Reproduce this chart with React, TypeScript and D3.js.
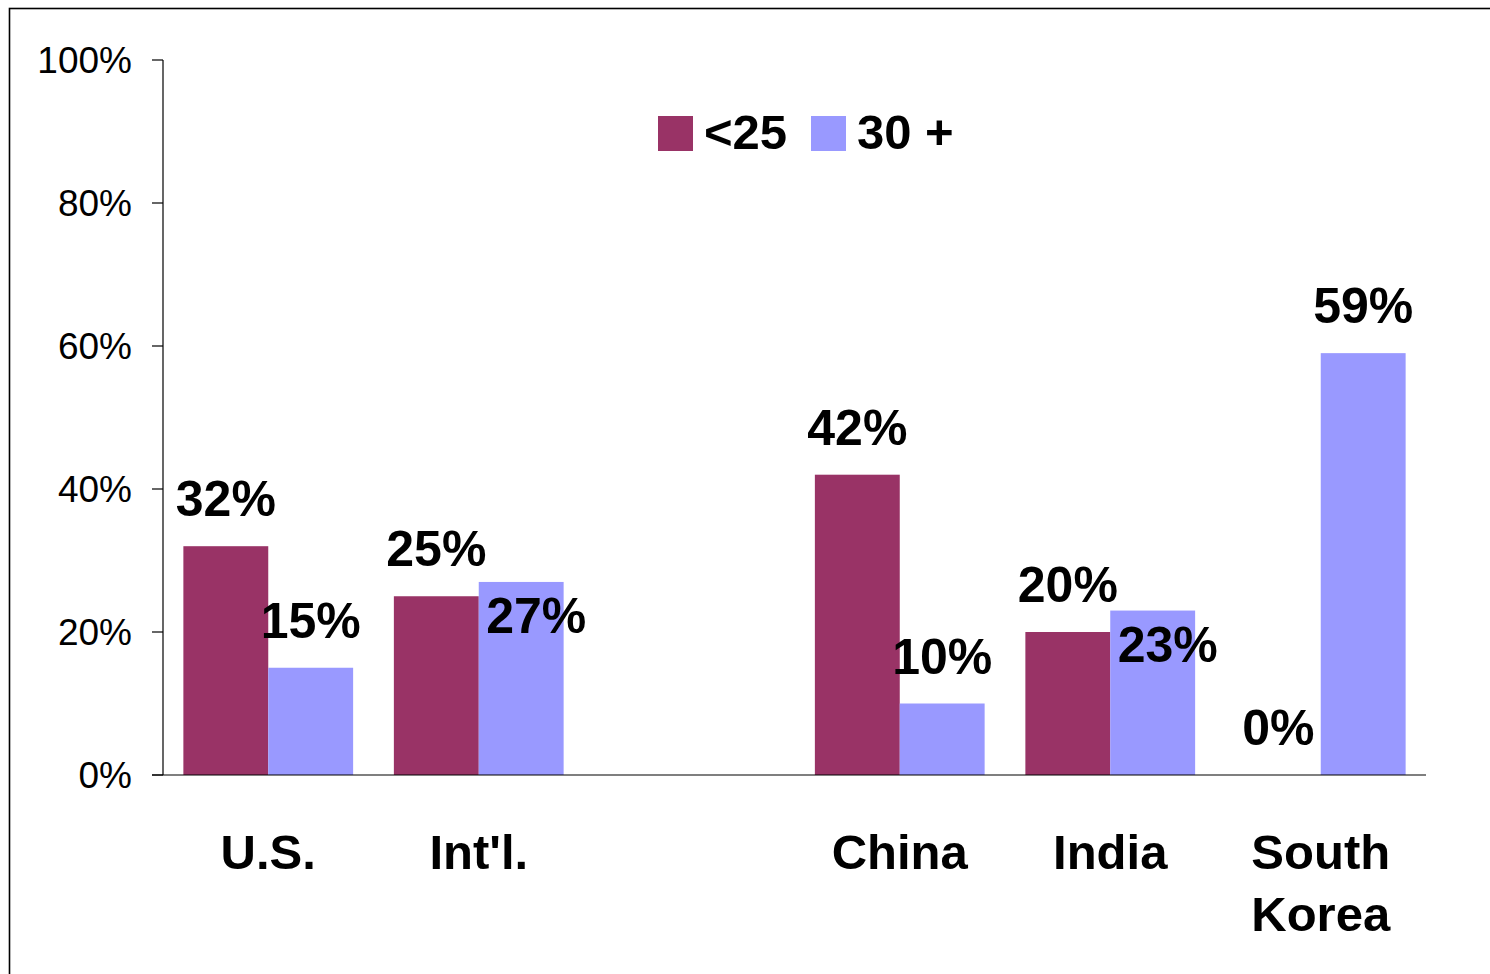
import React from "react";
import * as d3 from "d3";

const categories = ["U.S.", "Int'l.", "", "China", "India", "South Korea"];
const seriesNames = ["<25", "30 +"];
const under25 = [32, 25, null, 42, 20, 0];
const over30 = [15, 27, null, 10, 23, 59];
const yTicks = [0, 20, 40, 60, 80, 100];
const colors = ["#993366", "#9999FF"];

const FONT = "'Liberation Sans', Arial, Helvetica, sans-serif";

export default function App() {
  const W = 1490;
  const H = 974;
  const left = 163;
  const right = 1426;
  const top = 60;
  const bottom = 775;

  const y = d3.scaleLinear().domain([0, 100]).range([bottom, top]);
  const x0 = d3.scaleBand<string>().domain(categories.map((c, i) => i + "")).range([left, right]).padding(0);
  const x1 = d3.scaleBand<string>().domain(seriesNames).range([0, x0.bandwidth()]).paddingInner(0).paddingOuter(0.24);
  const series = [under25, over30];

  return (
    <svg width={W} height={H} style={{ position: "absolute", left: 0, top: 0, background: "#fff" }} fontFamily={FONT}>
      <rect x={0} y={0} width={W} height={H} fill="#fff" />
      <rect x={9.5} y={8.5} width={W + 20} height={H + 20} fill="none" stroke="#000" strokeWidth={1.6} />

      {/* y axis */}
      <line x1={left} x2={left} y1={top} y2={bottom} stroke="#000" strokeWidth={1.2} />
      {yTicks.map((t) => (
        <g key={t}>
          <line x1={left - 11} x2={left} y1={y(t)} y2={y(t)} stroke="#000" strokeWidth={1.2} />
          <text x={132} y={y(t) + 13} textAnchor="end" fontSize={37} fill="#000">
            {t}%
          </text>
        </g>
      ))}

      {/* bars */}
      {categories.map((c, i) =>
        series.map((s, si) => {
          const v = s[i];
          if (v === null || v === undefined) return null;
          const bx = (x0(i + "") as number) + (x1(seriesNames[si]) as number);
          const bw = x1.bandwidth();
          return (
            <rect key={c + si} x={bx} y={y(v)} width={bw} height={bottom - y(v)} fill={colors[si]} />
          );
        })
      )}

      {/* x axis */}
      <line x1={left - 11} x2={right} y1={bottom} y2={bottom} stroke="#000" strokeWidth={1.2} />

      {/* value labels */}
      {categories.map((c, i) =>
        series.map((s, si) => {
          const v = s[i];
          if (v === null || v === undefined) return null;
          const bx = (x0(i + "") as number) + (x1(seriesNames[si]) as number);
          const cx = bx + x1.bandwidth() / 2;
          const other = series[0][i] as number;
          const inside = si === 1 && other > 0 && v > other;
          const by = inside ? y(v) + 51 : y(v) - 30;
          return (
            <text key={"l" + c + si} x={inside ? cx + 15 : cx} y={by} textAnchor="middle" fontSize={50} fontWeight="bold" fill="#000">
              {v}%
            </text>
          );
        })
      )}

      {/* category labels */}
      {categories.map((c, i) => {
        const cx = (x0(i + "") as number) + x0.bandwidth() / 2;
        const words = c.split(" ").filter((w) => w.length);
        return (
          <text key={"c" + i} x={cx} y={869} textAnchor="middle" fontSize={49} fontWeight="bold" fill="#000">
            {words.map((w, wi) => (
              <tspan key={wi} x={cx} dy={wi === 0 ? 0 : 62}>
                {w}
              </tspan>
            ))}
          </text>
        );
      })}

      {/* legend */}
      <g>
        <rect x={658} y={116} width={35} height={35} fill={colors[0]} />
        <text x={704} y={149} fontSize={49} fontWeight="bold" fill="#000">{seriesNames[0]}</text>
        <rect x={811} y={116} width={35} height={35} fill={colors[1]} />
        <text x={857} y={149} fontSize={49} fontWeight="bold" fill="#000">{seriesNames[1]}</text>
      </g>
    </svg>
  );
}
